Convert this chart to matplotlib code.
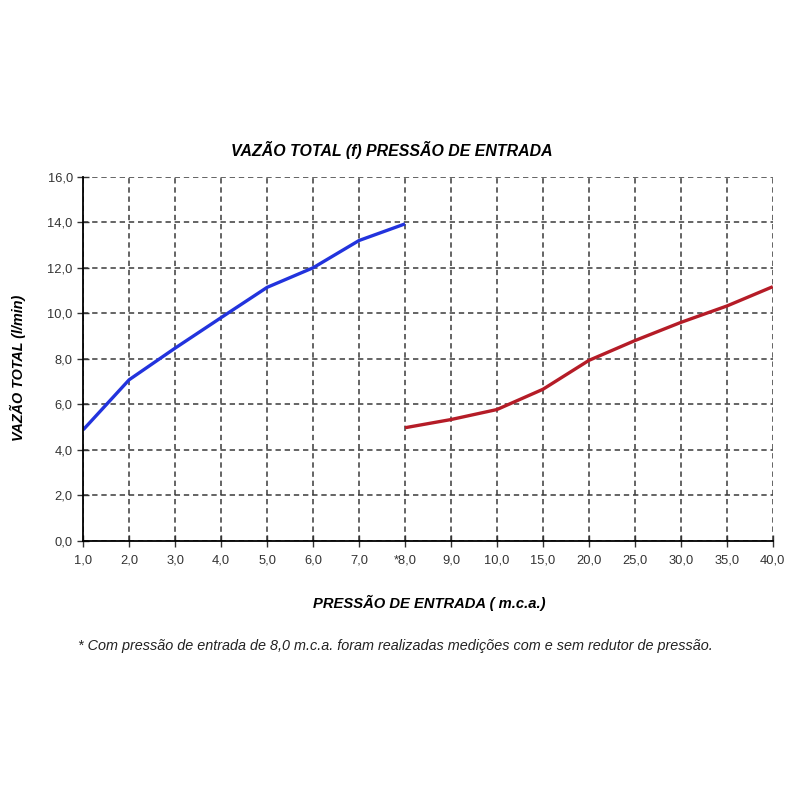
import matplotlib
matplotlib.use("Agg")
from matplotlib import pyplot as plt

plt.rcParams['font.family'] = ['Liberation Sans', 'DejaVu Sans']

# categorical x axis (evenly spaced)
x_labels = ['1,0', '2,0', '3,0', '4,0', '5,0', '6,0', '7,0', '*8,0',
            '9,0', '10,0', '15,0', '20,0', '25,0', '30,0', '35,0', '40,0']
# without pressure reducer (1,0 .. 8,0)
blue_vals = [4.88, 7.08, 8.47, 9.81, 11.14, 12.0, 13.2, 13.93]
# with pressure reducer (8,0 .. 40,0)
red_vals = [4.97, 5.33, 5.77, 6.66, 7.93, 8.8, 9.6, 10.32, 11.17]

y_ticks = [0, 2, 4, 6, 8, 10, 12, 14, 16]

fig = plt.figure(figsize=(8, 8), dpi=100)
ax = fig.add_axes([0.104, 0.324, 0.862, 0.455])

xb = list(range(len(blue_vals)))
xr = list(range(7, 7 + len(red_vals)))
ax.plot(xb, blue_vals, color='#2233dd', lw=2.4, solid_capstyle='butt')
ax.plot(xr, red_vals, color='#b51c27', lw=2.4, solid_capstyle='butt')

ax.set_xlim(0, len(x_labels) - 1)
ax.set_ylim(0, 16)
ax.set_xticks(range(len(x_labels)))
ax.set_xticklabels(x_labels)
ax.set_yticks(y_ticks)
ax.set_yticklabels(['%d,0' % v for v in y_ticks])
ax.tick_params(direction='inout', length=8, width=1, labelsize=9.3, colors='#333333')
ax.tick_params(axis='x', pad=6)

ax.grid(True, linestyle=(0, (3.5, 2.5)), color='#3a3a3a', lw=1.1)
ax.set_axisbelow(True)
for s in ['top', 'right']:
    ax.spines[s].set_visible(False)
for s in ['left', 'bottom']:
    ax.spines[s].set_linewidth(1.3)

fig.text(0.49, 0.812, 'VAZÃO TOTAL (f) PRESSÃO DE ENTRADA', ha='center', va='center',
         fontsize=11.4, fontweight='bold', style='italic')
fig.text(0.022, 0.54, 'VAZÃO TOTAL (l/min)', ha='center', va='center', rotation=90,
         fontsize=10.4, fontweight='bold', style='italic')
fig.text(0.536, 0.246, 'PRESSÃO DE ENTRADA ( m.c.a.)', ha='center', va='center',
         fontsize=10.6, fontweight='bold', style='italic')
fig.text(0.097, 0.193, '* Com pressão de entrada de 8,0 m.c.a. foram realizadas medições com e sem redutor de pressão.',
         ha='left', va='center', fontsize=10.4, style='italic', color='#222222')

fig.savefig('out.png', dpi=100)
